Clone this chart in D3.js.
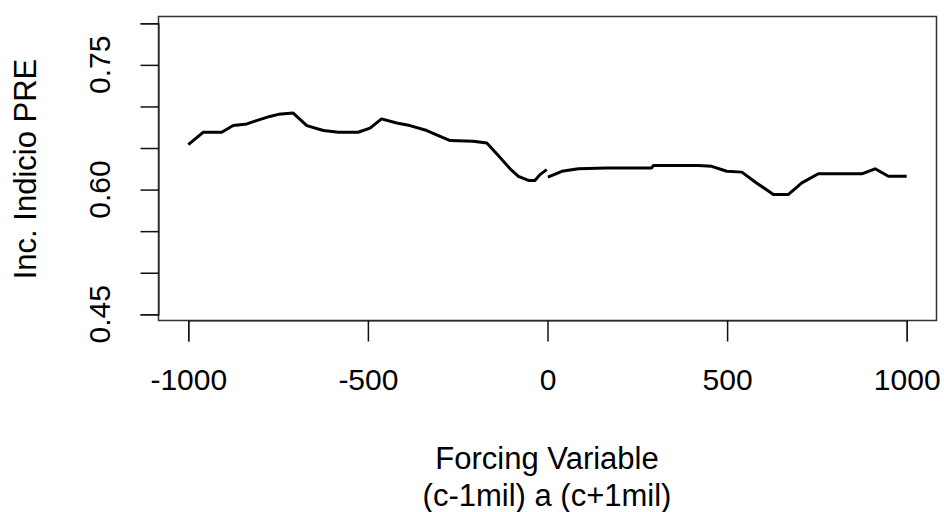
<!DOCTYPE html>
<html><head><meta charset="utf-8">
<script src="https://cdn.jsdelivr.net/npm/d3@7"></script>
<style>html,body{margin:0;padding:0;background:#fff;}svg{display:block;}</style>
</head><body>
<svg id="chart" width="944" height="512"></svg>
<script>
// Left of cutoff
const leftX = [-1000,-958,-907,-875,-837,-810,-773,-749,-708,-670,-624,-582,-527,-494,-462,-420,-383,-336,-299,-271,-207,-169,-137,-104,-81,-53,-35,-21,-2];
const leftY = [0.654,0.669,0.669,0.677,0.679,0.683,0.688,0.6905,0.692,0.677,0.671,0.669,0.669,0.674,0.685,0.680,0.677,0.671,0.664,0.659,0.658,0.656,0.641,0.625,0.616,0.611,0.611,0.618,0.624];
// Right of cutoff
const rightX = [1,40,86,165,290,295,420,457,499,541,582,629,670,708,754,875,912,949,1000];
const rightY = [0.615,0.622,0.625,0.626,0.626,0.629,0.629,0.628,0.622,0.621,0.608,0.594,0.594,0.608,0.619,0.619,0.625,0.616,0.616];

const xTicks = [-1000,-500,0,500,1000];
const yTicks = [0.45,0.50,0.55,0.60,0.65,0.70,0.75,0.80];
const yLabelTicks = [0.45,0.60,0.75];
const xTitle1 = "Forcing Variable";
const xTitle2 = "(c-1mil) a (c+1mil)";
const yTitle = "Inc. Indicio PRE";

const svg = d3.select("#chart");
const box = {l:158.5, t:16.5, r:936.5, b:320.5};
const x = d3.scaleLinear().domain([-1000,1000]).range([188.3,906.7]);
const y = d3.scaleLinear().domain([0.45,0.80]).range([314.3,23.3]);
const font = "'Liberation Sans', Arial, sans-serif";

// plot box
svg.append("rect").attr("x",box.l).attr("y",box.t).attr("width",box.r-box.l).attr("height",box.b-box.t)
  .attr("fill","none").attr("stroke","#333").attr("stroke-width",1.5);

// x axis
const xAxis = d3.axisBottom(x).tickValues(xTicks).tickSize(21).tickPadding(27).tickFormat(d3.format("d"));
const gx = svg.append("g").attr("transform",`translate(0,${box.b})`).call(xAxis);
gx.select(".domain").attr("stroke","#222").attr("stroke-width",1.2);
gx.selectAll(".tick line").attr("stroke","#111").attr("stroke-width",1.5);
gx.selectAll(".tick text").attr("font-family",font).attr("font-size",30).attr("fill","#000")
  .text(d=>d<0?"-"+Math.abs(d):String(d));

// y axis
const yAxis = d3.axisLeft(y).tickValues(yTicks).tickSize(18).tickFormat("");
const gy = svg.append("g").attr("transform",`translate(${box.l},0)`).call(yAxis);
gy.select(".domain").attr("stroke","#222").attr("stroke-width",1.2);
gy.selectAll(".tick line").attr("stroke","#111").attr("stroke-width",1.5);
svg.append("g").selectAll("text").data(yLabelTicks).join("text")
  .attr("transform",d=>`translate(110,${y(d)}) rotate(-90)`)
  .attr("text-anchor","middle").attr("font-family",font).attr("font-size",30).attr("fill","#000")
  .text(d=>d3.format(".2f")(d));

// lines
const line = d3.line().x(d=>x(d[0])).y(d=>y(d[1]));
[[leftX,leftY],[rightX,rightY]].forEach(([xs,ys])=>{
  svg.append("path").datum(xs.map((v,i)=>[v,ys[i]])).attr("d",line)
    .attr("fill","none").attr("stroke","#000").attr("stroke-width",3).attr("stroke-linejoin","round");
});

// titles
svg.append("text").attr("x",547).attr("y",469).attr("text-anchor","middle")
  .attr("font-family",font).attr("font-size",31).attr("fill","#000").text(xTitle1);
svg.append("text").attr("x",547).attr("y",506).attr("text-anchor","middle")
  .attr("font-family",font).attr("font-size",31).attr("fill","#000").text(xTitle2);
svg.append("text").attr("transform",`translate(36,169) rotate(-90)`).attr("text-anchor","middle")
  .attr("font-family",font).attr("font-size",31).attr("fill","#000").text(yTitle);
</script>
</body></html>
